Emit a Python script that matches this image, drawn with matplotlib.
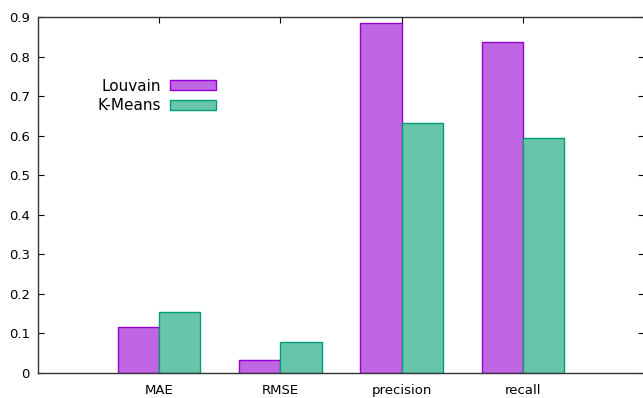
import matplotlib.pyplot as plt
import numpy as np

categories = ['MAE', 'RMSE', 'precision', 'recall']
louvain = [0.117, 0.032, 0.886, 0.837]
kmeans = [0.153, 0.078, 0.631, 0.594]

fig = plt.figure(figsize=(6.43, 3.98), dpi=100)
ax = fig.add_axes([0.0591, 0.0628, 0.9425, 0.8945])

x = np.arange(len(categories))
w = 0.34
ax.bar(x - w/2, louvain, w, color='#c066e3', edgecolor='#9400d3', linewidth=1, label='Louvain')
ax.bar(x + w/2, kmeans, w, color='#66c5ab', edgecolor='#009e73', linewidth=1, label='K-Means')

ax.set_xlim(-1, 4)
ax.set_ylim(0, 0.9)
ax.set_xticks(x)
ax.set_xticklabels(categories)
ax.set_yticks(np.arange(0, 0.91, 0.1))
ax.set_yticklabels(['0'] + ['%.1f' % v for v in np.arange(0.1, 0.91, 0.1)])
ax.tick_params(direction='in', top=True, right=True, length=4, labelsize=9.5, pad=6)
ax.tick_params(axis='x', bottom=False, top=True, pad=8)
for s in ax.spines.values():
    s.set_linewidth(1)
    s.set_color('#333333')

leg = ax.legend(loc='center', bbox_to_anchor=(157/643, 1 - 96/398), bbox_transform=fig.transFigure,
                frameon=False, markerfirst=False, fontsize=11,
                handlelength=3.0, handleheight=0.65, labelspacing=0.3, handletextpad=0.6)

fig.savefig('out.png', dpi=100)
